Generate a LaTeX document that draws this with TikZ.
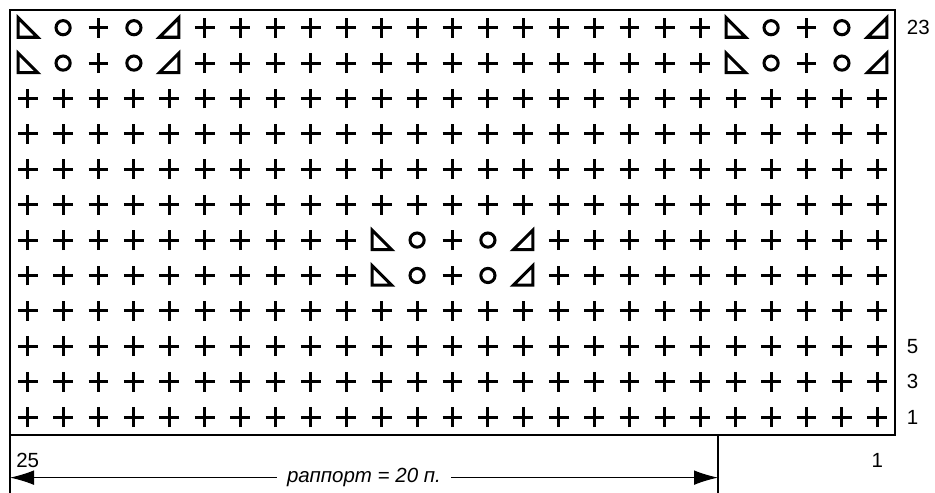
\documentclass[tikz,border=0pt]{standalone}
\usepackage{fontspec}
\setmainfont{Liberation Sans}
\usetikzlibrary{arrows.meta, positioning}

\begin{document}
\begin{tikzpicture}[
    x=1.062cm, y=1.062cm,
    every node/.style={font=\fontsize{17.5}{20}\selectfont},
    sym/.style={line width=2.6pt, line join=miter},
    frame/.style={line width=2pt},
    dim/.style={line width=0.9pt},
    knit/.pic={\draw[sym] (-0.28,0) -- (0.28,0) (0,-0.28) -- (0,0.28);},
    yarnover/.pic={\draw[sym] (0,0) circle (0.2);},
    decleft/.pic={\draw[sym] (-0.27,0.28) -- (-0.27,-0.27) -- (0.28,-0.27) -- cycle;},
    decright/.pic={\draw[sym] (0.27,0.28) -- (0.27,-0.27) -- (-0.28,-0.27) -- cycle;}
]
\useasboundingbox (-0.2825,-1.64) rectangle (26.13,12.2825);
% Frame
\draw[frame] (0,0) rectangle (25,12);
% Plain rows
\foreach \r in {1,2,3,4,7,8,9,10} {
    \foreach \c in {1,...,25} {
        \pic at (\c-0.5, \r-0.5) {knit};
    }
}
% Rows 5-6: motif in the middle
\foreach \r in {5,6} {
    \foreach \c in {1,...,10,16,17,18,19,20,21,22,23,24,25} {
        \pic at (\c-0.5, \r-0.5) {knit};
    }
    \foreach \c/\s in {11/decleft,12/yarnover,13/knit,14/yarnover,15/decright} {
        \pic at (\c-0.5, \r-0.5) {\s};
    }
}
% Rows 11-12: motif at both edges
\foreach \r in {11,12} {
    \foreach \c in {6,...,20} {
        \pic at (\c-0.5, \r-0.5) {knit};
    }
    \foreach \c/\s in {1/decleft,2/yarnover,3/knit,4/yarnover,5/decright,21/decleft,22/yarnover,23/knit,24/yarnover,25/decright} {
        \pic at (\c-0.5, \r-0.5) {\s};
    }
}
% Row numbers
\node[anchor=west] (row23) at (25.22, 11.5) {23};
\node[anchor=west] (row5) at (25.22, 2.5) {5};
\node[anchor=west] (row3) at (25.22, 1.5) {3};
\node[anchor=west] (row1) at (25.22, 0.5) {1};
% Stitch numbers
\node (st25) at (0.5, -0.72) {25};
\node (st1) at (24.5, -0.72) {1};
% Repeat
\coordinate (leftTop) at (0,0);
\coordinate (leftBot) at (0,-1.64);
\coordinate (repTop) at (20,0);
\coordinate (repBot) at (20,-1.64);
\draw[dim] (leftTop) -- (leftBot);
\draw[dim] (repTop) -- (repBot);
\coordinate (repL) at (0,-1.21);
\coordinate (repR) at (20,-1.21);
\node[inner sep=0.3cm] (rap) at (10,-1.21) {\itshape раппорт = 20 п.};
\draw[dim, -{Latex[length=0.72cm, width=0.44cm]}] (rap.west) -- (repL);
\draw[dim, -{Latex[length=0.72cm, width=0.44cm]}] (rap.east) -- (repR);
\end{tikzpicture}
\end{document}
